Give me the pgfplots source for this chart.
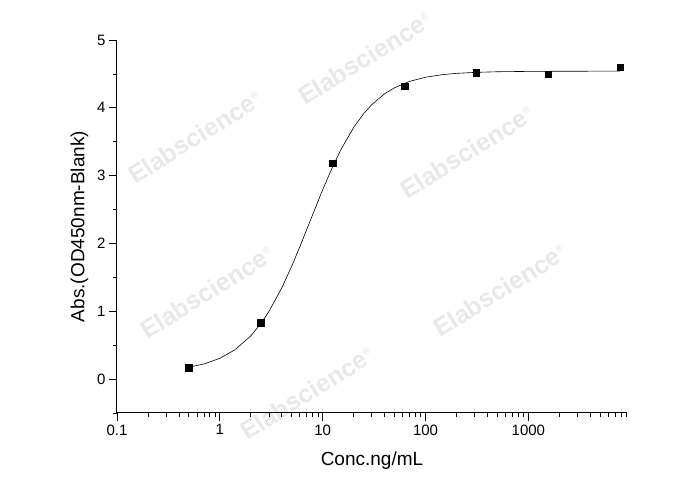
\documentclass[border=0pt]{standalone}
\usepackage{fontspec}
\setmainfont{Liberation Sans}
\usepackage{pgfplots}
\pgfplotsset{compat=1.18}

\begin{document}
\begin{tikzpicture}
\path[use as bounding box] (0pt,0pt) rectangle (688pt,490pt);

% watermarks
\begin{scope}[every node/.style={text=black!9,font=\fontsize{25}{25}\selectfont\bfseries,rotate=32}]
\node at (365pt,432pt) {Elabscience\textsuperscript{\normalsize ®}};
\node at (195pt,353pt) {Elabscience\textsuperscript{\normalsize ®}};
\node at (467pt,338pt) {Elabscience\textsuperscript{\normalsize ®}};
\node at (207pt,198pt) {Elabscience\textsuperscript{\normalsize ®}};
\node at (500pt,200pt) {Elabscience\textsuperscript{\normalsize ®}};
\node at (307pt,97pt) {Elabscience\textsuperscript{\normalsize ®}};
\end{scope}

\begin{axis}[
  at={(117pt,77pt)}, anchor=south west,
  scale only axis, width=510pt, height=373pt,
  xmode=log, log basis x=10,
  xmin=0.1, xmax=9100,
  ymin=-0.5, ymax=5,
  axis x line*=bottom, axis y line*=left,
  axis line style={line width=1pt},
  every tick/.style={black, line width=0.8pt},
  tick align=outside,
  major tick length=8pt, minor tick length=4pt,
  xtick={0.1,1,10,100,1000},
  xticklabels={0.1,1,10,100,1000},
  minor xtick={0.2,0.3,0.4,0.5,0.6,0.7,0.8,0.9,
    2,3,4,5,6,7,8,9,20,30,40,50,60,70,80,90,
    200,300,400,500,600,700,800,900,2000,3000,4000,5000,6000,7000,8000,9000},
  ytick={0,1,2,3,4,5},
  minor ytick={-0.5,0.5,1.5,2.5,3.5,4.5},
  tick label style={font=\fontsize{15}{16}\selectfont},
  /pgf/number format/assume math mode=true,
  xlabel={Conc.ng/mL}, ylabel={Abs.(OD450nm-Blank)},
  label style={font=\fontsize{19}{20}\selectfont},
  xlabel style={yshift=-10pt},
  ylabel style={yshift=2pt},
  clip=false,
]
\addplot[black, line width=0.6pt, no marks] coordinates {
 (0.5,0.175) (0.7,0.223) (1,0.306) (1.4,0.431) (2,0.637) (2.5,0.817)
 (3,0.997) (4,1.345) (5,1.665) (6,1.952) (7,2.205) (8,2.427)
 (10,2.792) (12,3.072) (15,3.380) (20,3.711) (25,3.913) (30,4.047)
 (40,4.207) (50,4.296) (70,4.390) (100,4.451) (150,4.491) (200,4.508)
 (300,4.522) (500,4.532) (1000,4.537) (2000,4.539) (4000,4.540) (7812.5,4.540)
};
\addplot[only marks, mark=square*, mark size=3.2pt, black] coordinates {
 (0.5,0.17) (2.5,0.83) (12.5,3.18) (62.5,4.32) (312.5,4.52) (1562.5,4.50) (7812.5,4.60)
};
\end{axis}
\end{tikzpicture}
\end{document}
